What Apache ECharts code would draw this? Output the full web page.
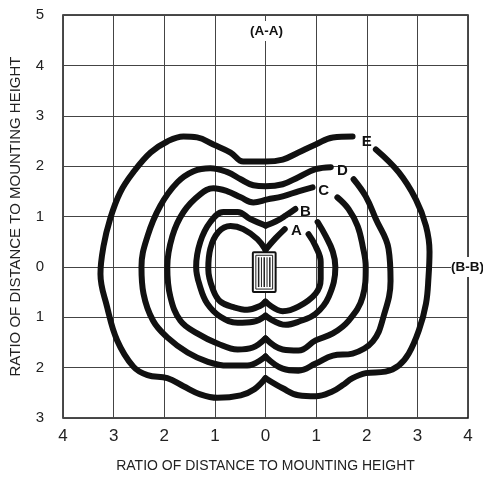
<!DOCTYPE html>
<html><head><meta charset="utf-8">
<script src="https://cdn.jsdelivr.net/npm/echarts@6/dist/echarts.min.js"></script>
<style>html,body{margin:0;padding:0;background:#fff}#c{width:483px;height:478px}</style>
</head><body><div id="c"></div>
<script>
const xMin = -4, xMax = 4, yMin = -3, yMax = 5;
const xTitle = 'RATIO OF DISTANCE TO MOUNTING HEIGHT';
const yTitle = 'RATIO OF DISTANCE TO MOUNTING HEIGHT';

// contour curves, each an open path starting at the upper-right end (next to its letter)
const curveA = [[0.38,0.75],[0.20,0.57],[0,0.34],[-0.16,0.55],[-0.44,0.75],[-0.69,0.81],[-0.93,0.69],[-1.09,0.36],[-1.13,-0.04],[-1.03,-0.47],[-0.89,-0.69],[-0.63,-0.80],[-0.36,-0.85],[-0.10,-0.77],[0,-0.69],[0.34,-0.88],[0.65,-0.79],[0.99,-0.53],[1.09,-0.24],[1.09,0.10],[0.99,0.41],[0.85,0.65]];
const curveB = [[0.59,1.15],[0.40,1.02],[0.20,0.90],[0,0.82],[-0.30,0.95],[-0.55,1.09],[-0.83,1.09],[-1.09,0.89],[-1.29,0.49],[-1.37,0],[-1.29,-0.40],[-1.15,-0.73],[-0.89,-0.99],[-0.55,-1.11],[-0.24,-1.09],[0,-0.97],[0.40,-1.15],[0.65,-1.09],[0.99,-0.93],[1.25,-0.59],[1.38,0],[1.33,0.30],[1.19,0.61],[1.03,0.89]];
const curveC = [[0.93,1.58],[0.65,1.50],[0.34,1.40],[0.04,1.34],[-0.24,1.28],[-0.49,1.38],[-0.75,1.50],[-1.03,1.56],[-1.29,1.44],[-1.62,1.09],[-1.84,0.61],[-1.94,0],[-1.88,-0.59],[-1.68,-1.07],[-1.35,-1.32],[-0.95,-1.52],[-0.55,-1.64],[-0.25,-1.60],[0,-1.42],[0.34,-1.64],[0.65,-1.66],[0.99,-1.46],[1.33,-1.32],[1.64,-1.07],[1.92,-0.59],[1.98,0],[1.92,0.41],[1.82,0.81],[1.64,1.15],[1.42,1.38]];
const curveD = [[1.29,1.98],[0.99,1.94],[0.65,1.78],[0.34,1.64],[0,1.60],[-0.24,1.62],[-0.49,1.74],[-0.75,1.88],[-1.09,1.96],[-1.42,1.90],[-1.74,1.68],[-2.08,1.21],[-2.33,0.61],[-2.45,0],[-2.41,-0.53],[-2.22,-1.07],[-1.94,-1.40],[-1.54,-1.70],[-1.15,-1.88],[-0.75,-1.96],[-0.36,-1.96],[0,-1.78],[0.34,-2.02],[0.65,-2.06],[0.99,-1.92],[1.33,-1.76],[1.72,-1.72],[2.12,-1.48],[2.33,-0.99],[2.47,-0.28],[2.43,0.36],[2.18,0.95],[1.98,1.40],[1.74,1.74]];
const curveE = [[1.72,2.59],[1.33,2.57],[0.99,2.43],[0.65,2.27],[0.34,2.13],[0,2.09],[-0.44,2.09],[-0.69,2.27],[-1.03,2.43],[-1.35,2.57],[-1.62,2.59],[-1.94,2.49],[-2.27,2.27],[-2.61,1.88],[-2.87,1.48],[-3.07,0.95],[-3.20,0.41],[-3.26,-0.14],[-3.13,-0.79],[-2.93,-1.46],[-2.61,-1.98],[-2.33,-2.15],[-1.94,-2.21],[-1.62,-2.37],[-1.29,-2.53],[-0.95,-2.60],[-0.49,-2.55],[-0.22,-2.43],[0,-2.21],[0.34,-2.41],[0.65,-2.55],[0.99,-2.57],[1.33,-2.47],[1.52,-2.35],[1.72,-2.21],[1.98,-2.11],[2.37,-2.08],[2.63,-1.96],[2.83,-1.72],[3.03,-1.26],[3.17,-0.73],[3.22,-0.20],[3.24,0.30],[3.17,0.81],[2.97,1.34],[2.63,1.88],[2.18,2.33]];
// indices of sharp corners (cusps) on each curve
const cornersA = [2, 14];
const cornersB = [3, 15];
const cornersC = [18];
const cornersD = [21];
const cornersE = [28];

const curveNames = ['A','B','C','D','E'];
const labelX = [0.61, 0.79, 1.15, 1.52, 2.00];
const labelY = [0.71, 1.09, 1.50, 1.90, 2.49];
const sectionNames = ['(A-A)', '(B-B)'];
const sectionX = [0.02, 3.99];
const sectionY = [4.68, 0];
const luminaire = [-0.25, 0.29, 0.20, -0.50];

const curves = [curveA, curveB, curveC, curveD, curveE];
const corners = [cornersA, cornersB, cornersC, cornersD, cornersE];
const FONT = '"Liberation Sans", Arial, sans-serif';

const series = [];
curves.forEach((pts, ci) => {
  const cuts = [0, ...corners[ci], pts.length - 1];
  for (let k = 0; k < cuts.length - 1; k++) {
    series.push({
      type: 'line', name: curveNames[ci], data: pts.slice(cuts[k], cuts[k+1] + 1),
      smooth: 0.4, showSymbol: false, symbol: 'none', silent: true, z: 3,
      lineStyle: { color: '#111', width: 6, cap: 'round', join: 'round' }
    });
  }
});

const labelBase = { show: true, position: 'inside', formatter: '{b}', color: '#111',
  fontWeight: 'bold', fontFamily: FONT, textBorderWidth: 0, textBorderColor: 'transparent',
  textShadowBlur: 0 };
series.push({
  type: 'scatter', symbolSize: 0, silent: true, z: 5, clip: false,
  itemStyle: { color: '#111', opacity: 1 },
  data: curveNames.map((n, i) => ({ name: n, value: [labelX[i], labelY[i]] })),
  label: Object.assign({}, labelBase, { fontSize: 15 })
});
series.push({
  type: 'scatter', symbolSize: 0, silent: true, z: 6, clip: false,
  itemStyle: { color: '#111', opacity: 1 },
  data: sectionNames.map((n, i) => ({ name: n, value: [sectionX[i], sectionY[i]] })),
  label: Object.assign({}, labelBase, { fontSize: 13.5, backgroundColor: '#fff', padding: [3, 0] })
});
series.push({
  type: 'custom', silent: true, z: 4, clip: false,
  encode: { x: [0, 2], y: [1, 3] },
  data: [luminaire],
  renderItem: function (params, api) {
    const p0 = api.coord([api.value(0), api.value(1)]);
    const p1 = api.coord([api.value(2), api.value(3)]);
    const w = p1[0] - p0[0], h = p1[1] - p0[1];
    const children = [
      { type: 'rect', shape: { x: p0[0], y: p0[1], width: w, height: h, r: 1 },
        style: { fill: '#fff', stroke: '#111', lineWidth: 2 } },
      { type: 'rect', shape: { x: p0[0] + 3, y: p0[1] + 3, width: w - 6, height: h - 6 },
        style: { fill: 'none', stroke: '#222', lineWidth: 1 } }
    ];
    for (let i = 1; i <= 5; i++) {
      const x = p0[0] + 3 + i * (w - 6) / 6;
      children.push({ type: 'line', shape: { x1: x, y1: p0[1] + 5, x2: x, y2: p1[1] - 5 },
        style: { stroke: '#222', lineWidth: i % 2 ? 1.5 : 1 } });
    }
    return { type: 'group', children };
  }
});

const chart = echarts.init(document.getElementById('c'), null, { renderer: 'canvas' });
chart.setOption({
  animation: false,
  backgroundColor: '#fff',
  grid: { left: 63, right: 15, top: 15, bottom: 58, show: true, borderColor: '#111', borderWidth: 1.5, backgroundColor: 'transparent' },
  xAxis: {
    type: 'value', min: xMin, max: xMax, interval: 1,
    name: xTitle, nameLocation: 'middle', nameGap: 41,
    nameTextStyle: { fontSize: 14, color: '#222', fontFamily: FONT },
    axisLine: { show: false }, axisTick: { show: false },
    axisLabel: { formatter: v => String(Math.abs(v)), fontSize: 17, color: '#222', fontFamily: FONT, margin: 10 },
    splitLine: { show: true, lineStyle: { color: '#444', width: 1 } }
  },
  yAxis: {
    type: 'value', min: yMin, max: yMax, interval: 1,
    name: yTitle, nameLocation: 'middle', nameGap: 40,
    nameTextStyle: { fontSize: 15, color: '#222', fontFamily: FONT },
    axisLine: { show: false }, axisTick: { show: false },
    axisLabel: { formatter: v => String(Math.abs(v)), fontSize: 15, color: '#222', fontFamily: FONT, margin: 19 },
    splitLine: { show: true, lineStyle: { color: '#444', width: 1 } }
  },
  series
});
</script></body></html>
